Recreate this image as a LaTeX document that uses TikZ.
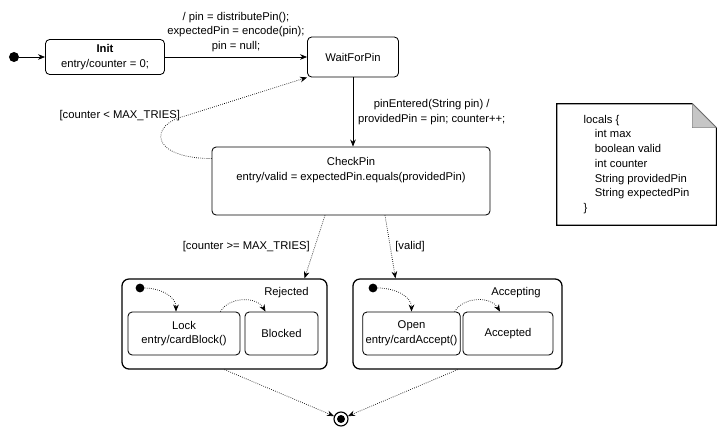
\documentclass[tikz,border=0pt]{standalone}
\usepackage{fontspec}
\setmainfont{Liberation Sans}
\usetikzlibrary{positioning,arrows.meta}

\begin{document}
\begin{tikzpicture}[
  x=0.025cm, y=-0.025cm,
  every node/.style={font=\fontsize{8}{10.5}\selectfont},
  state/.style={rectangle, rounded corners=3pt, draw, line width=0.6pt,
                align=center, inner xsep=2pt},
  comp/.style={rectangle, rounded corners=5pt, draw, line width=0.9pt},
  dot/.style={circle, fill=black, inner sep=0pt, minimum size=0.25cm},
  tr/.style={-{Stealth[length=5pt,width=4pt]}, line width=0.5pt},
  lightr/.style={tr, densely dotted}
]
  \useasboundingbox (0,0) rectangle (720,427);

  % top row
  \node[dot] (start) at (14,57) {};
  \node[state, minimum width=2.975cm, minimum height=0.875cm] (init)
    at (105,57) {\textbf{Init}\\ entry/counter = 0;};
  \node[state, minimum width=2.275cm, minimum height=1cm] (wait)
    at (353,57) {WaitForPin};
  \node[state, minimum width=6.95cm, minimum height=1.7cm] (check)
    at (351,181) {CheckPin\\ entry/valid = expectedPin.equals(providedPin)\\
      \rule{0pt}{14pt}};

  % note
  \node[minimum width=3.975cm, minimum height=3.025cm, align=left] (note)
    at (636.5,164.5) {locals \{\\ \hspace*{1em}int max\\ \hspace*{1em}boolean valid\\
      \hspace*{1em}int counter\\ \hspace*{1em}String providedPin\\
      \hspace*{1em}String expectedPin\\ \}};
  \draw[line width=0.8pt] (note.north west) -- ([xshift=-0.6cm]note.north east)
    -- ([yshift=-0.6cm]note.north east) -- (note.south east)
    -- (note.south west) -- cycle;
  \filldraw[fill=gray!45, draw=gray] ([xshift=-0.6cm]note.north east)
    -- ([yshift=-0.6cm]note.north east)
    -- ([xshift=-0.6cm,yshift=-0.6cm]note.north east) -- cycle;

  % composite states
  \node[comp, minimum width=5.125cm, minimum height=2.25cm] (reject)
    at (224.5,324) {};
  \node[comp, minimum width=5.225cm, minimum height=2.25cm] (accept)
    at (457.5,324) {};
  \node[anchor=north east] (rejname)
    at ([xshift=-0.35cm, yshift=-0.1cm]reject.north east) {Rejected};
  \node[anchor=north east] (accname)
    at ([xshift=-0.425cm, yshift=-0.1cm]accept.north east) {Accepting};

  \node[dot, minimum size=0.22cm] (rstart) at (140,288) {};
  \node[dot, minimum size=0.22cm] (astart) at (373,288) {};
  \node[state, minimum width=2.8cm, minimum height=1.075cm] (lock)
    at (184,333.5) {Lock\\ entry/cardBlock()};
  \node[state, minimum width=1.825cm, minimum height=1.075cm] (blocked)
    at (281.5,333.5) {Blocked};
  \node[state, minimum width=2.425cm, minimum height=1.075cm] (open)
    at (411.5,333.5) {Open\\ entry/cardAccept()};
  \node[state, minimum width=2.25cm, minimum height=1.075cm] (accepted)
    at (508,333.5) {Accepted};

  % final state
  \node[circle, draw, line width=0.8pt, minimum size=0.35cm, inner sep=0pt]
    (final) at (341,419) {};
  \node[dot, minimum size=0.2cm] (finalin) at (final) {};

  \coordinate (loopbend) at (185,116);

  \draw[tr] (start) -- (init);
  \draw[tr] (init) -- node[above, align=center] {/ pin = distributePin();\\
    expectedPin = encode(pin);\\ pin = null;} (wait);
  \draw[tr] (wait.south) -- node[right, align=center] {pinEntered(String pin) /\\
    providedPin = pin; counter++;} (wait.south |- check.north);
  \draw[lightr] ([yshift=-0.3cm]check.north west)
    .. controls (148,158) and (150,124) .. (loopbend)
    node[left] {[counter < MAX\_TRIES]} -- (wait.south west);
  \draw[lightr] ([xshift=-0.65cm]check.south)
    -- node[left] {[counter >= MAX\_TRIES]} ([xshift=2cm]reject.north);
  \draw[lightr] ([xshift=0.85cm]check.south)
    -- node[right] {[valid]} ([xshift=-1.55cm]accept.north);

  \draw[lightr] (rstart) to[out=0, in=90] ([xshift=-0.2cm]lock.north);
  \draw[lightr] (astart) to[out=0, in=90] (open.north);
  \draw[lightr] ([xshift=-0.5cm]lock.north east) to[bend left=60]
    ([xshift=-0.4cm]blocked.north);
  \draw[lightr] ([xshift=-0.15cm]open.north east) to[bend left=60]
    ([xshift=-0.2cm]accepted.north);

  \draw[lightr] (reject.south) -- (final);
  \draw[lightr] (accept.south) -- (final);
\end{tikzpicture}
\end{document}
